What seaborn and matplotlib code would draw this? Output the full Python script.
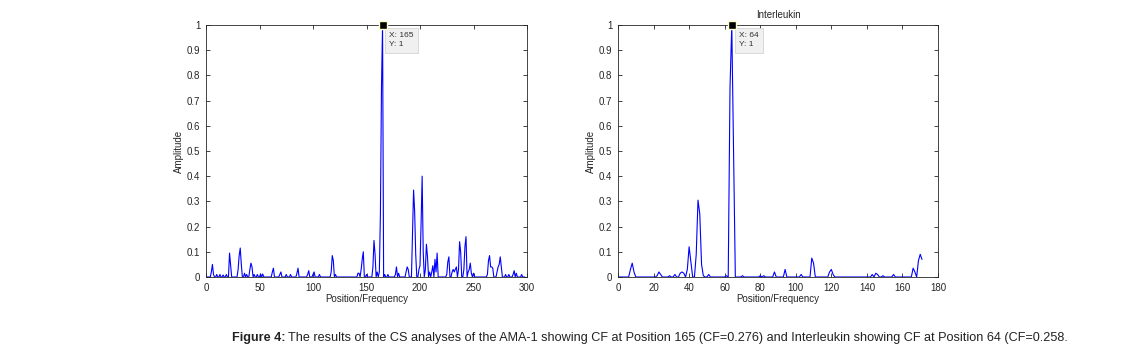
import numpy as np
import pandas as pd
import seaborn as sns
import matplotlib.pyplot as plt

# AMA-1 spectrum: nonzero positions and amplitudes (everything else is 0)
ama_len = 299
ama_pos = [5, 6, 7, 10, 13, 16, 19, 22, 23, 30, 31, 32, 33, 36, 38, 41, 42, 43, 45,
           48, 51, 53, 62, 63, 69, 70, 75, 79, 85, 86, 95, 96, 100, 101, 106, 117, 118,
           119, 121, 142, 143, 145, 146, 147, 150, 156, 157, 158, 160, 162, 163, 164,
           165, 167, 170, 177, 178, 180, 187, 188, 189, 193, 194, 195, 196, 199, 200,
           201, 202, 203, 205, 206, 207, 209, 211, 212, 214, 215, 216, 225, 226, 227,
           230, 231, 232, 233, 234, 236, 237, 238, 241, 242, 243, 245, 246, 247, 248,
           250, 263, 264, 265, 266, 267, 268, 272, 273, 274, 275, 276, 280, 283, 287,
           288, 290, 295]
ama_amp = [0.02, 0.05, 0.01, 0.01, 0.01, 0.008, 0.01, 0.095, 0.045, 0.03, 0.085, 0.115,
           0.05, 0.015, 0.01, 0.03, 0.055, 0.04, 0.01, 0.01, 0.012, 0.012, 0.02, 0.035,
           0.01, 0.02, 0.01, 0.01, 0.015, 0.035, 0.01, 0.025, 0.01, 0.02, 0.01, 0.02,
           0.085, 0.065, 0.01, 0.015, 0.015, 0.03, 0.07, 0.1, 0.01, 0.04, 0.145, 0.09,
           0.02, 0.02, 0.25, 0.75, 1.0, 0.01, 0.01, 0.01, 0.04, 0.015, 0.02, 0.04, 0.03,
           0.17, 0.345, 0.26, 0.09, 0.03, 0.045, 0.21, 0.4, 0.1, 0.03, 0.13, 0.08, 0.02,
           0.02, 0.045, 0.07, 0.02, 0.095, 0.01, 0.06, 0.08, 0.02, 0.03, 0.02, 0.03,
           0.04, 0.03, 0.14, 0.1, 0.03, 0.12, 0.16, 0.02, 0.03, 0.055, 0.015, 0.015,
           0.01, 0.065, 0.085, 0.04, 0.04, 0.035, 0.02, 0.04, 0.05, 0.08, 0.04, 0.01,
           0.01, 0.01, 0.025, 0.015, 0.01]

# Interleukin spectrum
il_len = 172
il_pos = [7, 8, 9, 22, 23, 24, 29, 32, 35, 36, 37, 39, 40, 41, 44, 45, 46, 47, 48,
          51, 61, 63, 64, 65, 70, 80, 82, 88, 94, 103, 109, 110, 119, 120, 121,
          143, 145, 146, 149, 155, 166, 167, 169, 170, 171]
il_amp = [0.03, 0.055, 0.02, 0.005, 0.02, 0.01, 0.005, 0.01, 0.015, 0.02, 0.015, 0.03,
          0.12, 0.06, 0.09, 0.305, 0.25, 0.05, 0.005, 0.01, 0.005, 0.75, 1.0, 0.5,
          0.005, 0.005, 0.005, 0.02, 0.03, 0.01, 0.075, 0.055, 0.02, 0.03, 0.01, 0.01,
          0.015, 0.01, 0.005, 0.01, 0.035, 0.02, 0.065, 0.09, 0.07]

ama_tip = (165, 1)
il_tip = (64, 1)


def spectrum(n, pos, amp):
    y = np.zeros(n)
    y[pos] = amp
    return pd.DataFrame({'pos': np.arange(n), 'amp': y})


def draw(ax, df, xmax, xstep, tip, title=None):
    sns.lineplot(data=df, x='pos', y='amp', ax=ax, color='#0000ff', linewidth=0.8)
    ax.set_xlim(0, xmax)
    ax.set_ylim(0, 1)
    ax.set_xticks(np.arange(0, xmax + 1, xstep))
    yt = np.round(np.arange(0, 1.01, 0.1), 1)
    ax.set_yticks(yt)
    ax.set_yticklabels(['0'] + [f'{v:g}' for v in yt[1:-1]] + ['1'])
    ax.tick_params(direction='in', top=True, right=True, labelsize=7, length=3,
                   width=0.6, pad=4)
    for s in ax.spines.values():
        s.set_linewidth(0.6)
        s.set_visible(True)
    ax.set_xlabel('Position/Frequency', fontsize=7, labelpad=1)
    ax.set_ylabel('Amplitude', fontsize=7, labelpad=2)
    if title:
        ax.set_title(title, fontsize=7, pad=5)
    ax.plot([tip[0]], [tip[1]], marker='s', color='black', markersize=6,
            markeredgecolor='#ffffcc', clip_on=False, zorder=5)
    ax.annotate(f'X: {tip[0]}\nY: {tip[1]}', xy=tip, xytext=(5, -5),
                textcoords='offset points', fontsize=6, va='top', ha='left',
                linespacing=1.5, color='#333333',
                bbox=dict(boxstyle='square,pad=0.5', fc='#f0f0f0', ec='#cccccc', lw=0.5))


sns.set_style('ticks')
plt.rcParams['font.family'] = ['Liberation Sans', 'DejaVu Sans']

fig = plt.figure(figsize=(11.28, 3.56), dpi=100)
ax1 = fig.add_axes([206 / 1128, 1 - 277 / 356, 321 / 1128, 252 / 356])
ax2 = fig.add_axes([618 / 1128, 1 - 277 / 356, 320 / 1128, 252 / 356])

draw(ax1, spectrum(ama_len, ama_pos, ama_amp), 300, 50, ama_tip)
draw(ax2, spectrum(il_len, il_pos, il_amp), 180, 20, il_tip, title='Interleukin')

cap_y = 1 - 338 / 356
t1 = fig.text(232 / 1128, cap_y, 'Figure 4:', fontsize=9.1, fontweight='bold',
              va='center', ha='left', color='#222222')
fig.canvas.draw()
x1 = t1.get_window_extent().x1 + 3
fig.text(x1 / 1128, cap_y,
         'The results of the CS analyses of the AMA-1 showing CF at Position 165 (CF=0.276) '
         'and Interleukin showing CF at Position 64 (CF=0.258.',
         fontsize=9.1, va='center', ha='left', color='#222222')

fig.savefig('out.png', dpi=100)
plt.close(fig)
